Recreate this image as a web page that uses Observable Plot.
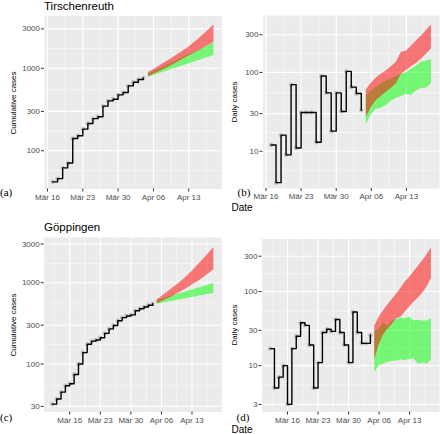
<!DOCTYPE html>
<html>
<head>
<meta charset="utf-8">
<script src="https://cdn.jsdelivr.net/npm/d3@7"></script>
<script src="https://cdn.jsdelivr.net/npm/@observablehq/plot@0.6"></script>
<style>
  body { margin: 0; background: #fff; }
  #root { position: relative; width: 440px; height: 434px; overflow: hidden; background: #fff; }
  #root > svg { position: absolute; left: 0; top: 0; }
</style>
</head>
<body>
<div id="root"></div>
<script>
// ---------------- data ----------------
const tirDates = ["2020-03-17","2020-03-18","2020-03-19","2020-03-20","2020-03-21","2020-03-22","2020-03-23","2020-03-24","2020-03-25","2020-03-26","2020-03-27","2020-03-28","2020-03-29","2020-03-30","2020-03-31","2020-04-01","2020-04-02","2020-04-03","2020-04-04"];
const tirCum   = [42, 46, 62, 71, 141, 152, 183, 214, 245, 258, 348, 403, 421, 476, 508, 611, 676, 730, 763];
const tirDaily = [12, 4, 16, 9, 70, 11, 31, 31, 31, 13, 90, 55, 18, 55, 32, 103, 65, 54, 33];

const gopDates = ["2020-03-12","2020-03-13","2020-03-14","2020-03-15","2020-03-16","2020-03-17","2020-03-18","2020-03-19","2020-03-20","2020-03-21","2020-03-22","2020-03-23","2020-03-24","2020-03-25","2020-03-26","2020-03-27","2020-03-28","2020-03-29","2020-03-30","2020-03-31","2020-04-01","2020-04-02","2020-04-03","2020-04-04"];
const gopCum   = [32, 37, 45, 54, 57, 74, 100, 138, 175, 191, 197, 210, 238, 270, 297, 340, 372, 390, 402, 452, 478, 503, 528, 552];
const gopDaily = [17, 5, 7, 10, 3, 17, 25, 38, 35, 19, 5, 11, 28, 31, 29, 42, 28, 19, 11, 53, 28, 20, 20, 26];

const fcDates = ["2020-04-05","2020-04-06","2020-04-07","2020-04-08","2020-04-09","2020-04-10","2020-04-11","2020-04-12","2020-04-13","2020-04-14","2020-04-15","2020-04-16","2020-04-17","2020-04-18"];

const tirCumRedHi   = [880, 960, 1045, 1140, 1245, 1360, 1490, 1635, 1800, 2020, 2270, 2560, 2920, 3340];
const tirCumRedLo   = [790, 840, 900, 960, 1030, 1110, 1200, 1300, 1400, 1510, 1620, 1760, 1900, 2060];
const tirCumGreenHi = [855, 910, 970, 1035, 1105, 1185, 1270, 1360, 1450, 1545, 1650, 1760, 1890, 2030];
const tirCumGreenLo = [778, 815, 855, 895, 940, 985, 1030, 1080, 1130, 1185, 1240, 1300, 1360, 1425];

const tirDayRedHi   = [60, 73, 85, 95, 105, 118, 135, 180, 185, 215, 250, 290, 340, 400];
const tirDayRedLo   = [27, 36, 44, 50, 56, 63, 72, 95, 105, 118, 130, 148, 170, 200];
const tirDayGreenHi = [50, 58, 65, 72, 78, 83, 88, 95, 100, 110, 120, 135, 140, 145];
const tirDayGreenLo = [22, 29, 34, 35, 38, 43, 47, 49, 53, 51, 58, 63, 63, 72];

const gopCumRedHi   = [611, 672, 738, 810, 890, 980, 1090, 1220, 1380, 1570, 1790, 2040, 2350, 2720];
const gopCumRedLo   = [556, 585, 618, 655, 697, 745, 800, 862, 930, 1005, 1090, 1190, 1310, 1450];
const gopCumGreenHi = [601, 624, 648, 673, 698, 725, 753, 782, 812, 843, 875, 908, 943, 980];
const gopCumGreenLo = [545, 558, 571, 585, 598, 613, 627, 642, 657, 673, 689, 705, 721, 738];

const gopDayRedHi   = [34, 45, 55, 66, 78, 92, 110, 135, 155, 185, 220, 260, 315, 390];
const gopDayRedLo   = [12, 19, 26, 31, 36, 43, 45, 53, 62, 72, 82, 95, 115, 150];
const gopDayGreenHi = [29, 31, 38, 34, 40, 42, 44, 43, 45, 40, 41, 40, 40, 43];
const gopDayGreenLo = [8, 10, 10.5, 11, 11.5, 11.5, 12, 11.7, 12, 12.4, 10.5, 10.8, 10.5, 11.7];

const xTicks      = ["2020-03-16","2020-03-23","2020-03-30","2020-04-06","2020-04-13"];
const xTickLabels = ["Mär 16", "Mär 23", "Mär 30", "Apr 06", "Apr 13"];
const xMinorTir   = ["2020-03-19T12:00","2020-03-26T12:00","2020-04-02T12:00","2020-04-09T12:00","2020-04-16T12:00"];
const xMinorGop   = ["2020-03-12T12:00","2020-03-19T12:00","2020-03-26T12:00","2020-04-02T12:00","2020-04-09T12:00","2020-04-16T12:00"];

const yTicksA = [100, 300, 1000, 3000];
const yMinorA = [57.7, 173, 548, 1732];
const yTicksB = [10, 30, 100, 300];
const yMinorB = [5.77, 17.3, 54.8, 173, 520];
const yTicksC = [30, 100, 300, 1000, 3000];
const yMinorC = [54.8, 173, 548, 1732];
const yTicksD = [3, 10, 30, 100, 300];
const yMinorD = [5.48, 17.3, 54.8, 173];

// ---------------- helpers ----------------
const W = 440, H = 434;
const FONT = "'Liberation Sans', Arial, sans-serif";
const parse = s => new Date(s.length > 10 ? s + ":00Z" : s + "T00:00:00Z");
const obs = (dates, vals) => dates.map((d, i) => ({date: parse(d), value: vals[i]}));
const band = (lo, hi) => fcDates.map((d, i) => ({date: parse(d), lo: lo[i], hi: hi[i]}));
const tickLabel = new Map(xTicks.map((d, i) => [+parse(d), xTickLabels[i]]));

function xDomainFor(dates) {
  const a = +parse(dates[0]), b = +parse(fcDates[fcDates.length - 1]);
  const pad = (b - a) * 0.05;
  return [new Date(a - pad), new Date(b + pad)];
}

function panel({frame: [l, r, t, b], xDom, yDom, yTicks, yMinor, xMinor, data, green, red}) {
  return Plot.plot({
    width: W, height: H,
    marginLeft: l, marginRight: W - r, marginTop: t, marginBottom: H - b,
    style: {background: "none", fontFamily: FONT, fontSize: "8px", overflow: "visible"},
    x: {type: "utc", domain: xDom},
    y: {type: "log", domain: yDom},
    marks: [
      Plot.frame({fill: "#ebebeb", stroke: "none"}),
      Plot.gridY(yMinor, {stroke: "#ffffff", strokeOpacity: 1, strokeWidth: 0.5}),
      Plot.gridX(xMinor.map(parse), {stroke: "#ffffff", strokeOpacity: 1, strokeWidth: 0.5}),
      Plot.gridY(yTicks, {stroke: "#ffffff", strokeOpacity: 1, strokeWidth: 1.1}),
      Plot.gridX(xTicks.map(parse), {stroke: "#ffffff", strokeOpacity: 1, strokeWidth: 1.1}),
      Plot.areaY(green, {x: "date", y1: "lo", y2: "hi", fill: "#00ff00", fillOpacity: 0.5}),
      Plot.areaY(red, {x: "date", y1: "lo", y2: "hi", fill: "#ff0000", fillOpacity: 0.5}),
      Plot.dot(data, {x: "date", y: "value", r: 2.2, fill: "#8c8c8c", fillOpacity: 0.45, stroke: "none"}),
      Plot.line(data, {x: "date", y: "value", curve: "step-after", stroke: "#000000", strokeWidth: 1.4}),
      Plot.axisY(yTicks, {tickSize: 3, tickFormat: () => "", label: null, stroke: "#333333"}),
      Plot.text(yTicks, {y: d => d, frameAnchor: "left", text: d => String(d), textAnchor: "end",
        dx: -4.5, fill: "#4d4d4d", fontSize: 8}),
      Plot.axisX(xTicks.map(parse), {tickSize: 3, tickPadding: 2, tickFormat: d => tickLabel.get(+d), label: null,
        stroke: "#333333", fill: "#4d4d4d", fontSize: 8})
    ]
  });
}

const root = document.getElementById("root");
const xTir = xDomainFor(tirDates);
const xGop = xDomainFor(gopDates);

root.append(panel({
  frame: [44, 221.5, 15.5, 188.5], xDom: xTir, yDom: [34.4, 4300],
  yTicks: yTicksA, yMinor: yMinorA, xMinor: xMinorTir,
  data: obs(tirDates, tirCum),
  green: band(tirCumGreenLo, tirCumGreenHi), red: band(tirCumRedLo, tirCumRedHi)
}));
root.append(panel({
  frame: [262.5, 439, 15, 188], xDom: xTir, yDom: [3.37, 527],
  yTicks: yTicksB, yMinor: yMinorB, xMinor: xMinorTir,
  data: obs(tirDates, tirDaily),
  green: band(tirDayGreenLo, tirDayGreenHi), red: band(tirDayRedLo, tirDayRedHi)
}));
root.append(panel({
  frame: [43.7, 221.4, 237, 411.5], xDom: xGop, yDom: [25.6, 3606],
  yTicks: yTicksC, yMinor: yMinorC, xMinor: xMinorGop,
  data: obs(gopDates, gopCum),
  green: band(gopCumGreenLo, gopCumGreenHi), red: band(gopCumRedLo, gopCumRedHi)
}));
root.append(panel({
  frame: [261.5, 439, 238.5, 411.5], xDom: xGop, yDom: [2.37, 512],
  yTicks: yTicksD, yMinor: yMinorD, xMinor: xMinorGop,
  data: obs(gopDates, gopDaily),
  green: band(gopDayGreenLo, gopDayGreenHi), red: band(gopDayRedLo, gopDayRedHi)
}));

// ---------------- titles and labels ----------------
const svg = d3.select(root).append("svg")
  .attr("width", W).attr("height", H)
  .style("font-family", FONT);

function label(text, x, y, opts = {}) {
  const t = svg.append("text").attr("x", x).attr("y", y).text(text)
    .attr("font-size", opts.size || 8).attr("fill", opts.fill || "#000")
    .attr("text-anchor", opts.anchor || "start");
  if (opts.family) t.attr("font-family", opts.family);
  if (opts.rotate) t.attr("transform", `rotate(-90 ${x} ${y})`);
  return t;
}
label("Tirschenreuth", 44, 9.5, {size: 11.5});
label("Göppingen", 44, 231, {size: 11.5});
label("Cumulative cases", 16, 103, {rotate: true, anchor: "middle"});
label("Cumulative cases", 16, 325, {rotate: true, anchor: "middle"});
label("Daily cases", 237, 102, {rotate: true, anchor: "middle"});
label("Daily cases", 237, 325, {rotate: true, anchor: "middle"});
const SERIF = "'Liberation Serif', 'Times New Roman', serif";
label("(a)", 0, 195.5, {size: 11, family: SERIF});
label("(b)", 237.5, 195.5, {size: 11, family: SERIF});
label("(c)", 0, 420.5, {size: 11, family: SERIF});
label("(d)", 236.5, 420.5, {size: 11, family: SERIF});
label("Date", 231.5, 210.5, {size: 10});
label("Date", 231.5, 432.5, {size: 10});
</script>
</body>
</html>
